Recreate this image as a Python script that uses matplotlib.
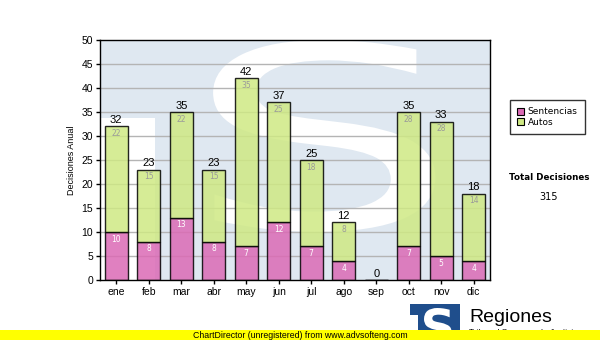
import numpy as np
import matplotlib
matplotlib.use("Agg")
import matplotlib.pyplot as plt
from matplotlib.patches import Rectangle, PathPatch
from matplotlib.textpath import TextPath
from matplotlib.font_manager import FontProperties
from matplotlib.transforms import Affine2D

# monthly decisions
months = ["ene", "feb", "mar", "abr", "may", "jun", "jul", "ago", "sep", "oct", "nov", "dic"]
sentencias = [10, 8, 13, 8, 7, 12, 7, 4, 0, 7, 5, 4]
autos = [22, 15, 22, 15, 35, 25, 18, 8, 0, 28, 28, 14]
series_names = ["Sentencias", "Autos"]

PINK = "#db6ab5"
GREEN = "#cfe984"
WM_BLUE = "#dfe8f1"
LOGO_BLUE = "#1f4e8c"
ARIAL = "Liberation Sans"
VERDANA = "DejaVu Sans"


def glyph_patch(char, box, transform, color, zorder, weight="normal"):
    """Glyph outline stretched into box=(x0, y0, x1, y1)."""
    tp = TextPath((0, 0), char, size=1, prop=FontProperties(family=VERDANA, weight=weight))
    bb = tp.get_extents()
    x0, y0, x1, y1 = box
    tr = (Affine2D().translate(-bb.x0, -bb.y0)
          .scale((x1 - x0) / bb.width, (y1 - y0) / bb.height)
          .translate(x0, y0))
    return PathPatch(tr.transform_path(tp), transform=transform,
                     facecolor=color, edgecolor="none", zorder=zorder)


W, H = 600, 340
fig = plt.figure(figsize=(6, 3.4), dpi=100)
fig.patch.set_facecolor("white")
ax = fig.add_axes([100 / W, 1 - 280 / H, 390 / W, 240 / H])

# "TS" watermark behind the bars
ax.set_facecolor("white")
ax.add_patch(Rectangle((0, 0), 1, 1, transform=ax.transAxes,
                       facecolor=WM_BLUE, edgecolor="none", zorder=0.1))
ax.add_patch(Rectangle((0, 0), 0.141, 0.675, transform=ax.transAxes,
                       facecolor="white", edgecolor="none", zorder=0.2))
ax.add_patch(glyph_patch("S", (0.29, 0.20, 0.86, 1.0), ax.transAxes, "white", 0.2))

x = np.arange(len(months))
sent = np.array(sentencias)
aut = np.array(autos)
total = sent + aut

for yv in range(5, 50, 5):
    ax.axhline(yv, color="#b4b4b4", lw=1, zorder=0.5)

ax.bar(x, sent, width=0.7, color=PINK, alpha=0.85, edgecolor="black", lw=1,
       zorder=2, label=series_names[0])
ax.bar(x, aut, bottom=sent, width=0.7, color=GREEN, alpha=0.85, edgecolor="black",
       lw=1, zorder=2, label=series_names[1])

for i in range(len(months)):
    ax.text(x[i], total[i] + 0.3, f"{total[i]}", ha="center", va="bottom",
            fontsize=8, family=ARIAL, color="black", zorder=4)
    if aut[i] > 0:
        ax.text(x[i], total[i] - 0.6, f"{aut[i]}", ha="center", va="top",
                fontsize=5.5, family=VERDANA, color="#9a9a9a", zorder=4)
    if sent[i] > 0:
        ax.text(x[i], sent[i] - 0.6, f"{sent[i]}", ha="center", va="top",
                fontsize=5.5, family=VERDANA, color="white", zorder=4)

ax.set_xlim(-0.5, len(months) - 0.5)
ax.set_ylim(0, 50)
ax.set_yticks(range(0, 51, 5))
ax.set_xticks(x)
ax.set_xticklabels(months)
ax.tick_params(axis="both", length=3, width=1, color="black", labelsize=7.5, pad=2)
for lbl in ax.get_xticklabels() + ax.get_yticklabels():
    lbl.set_family(ARIAL)
for sp in ax.spines.values():
    sp.set_linewidth(1)
    sp.set_color("black")
ax.set_ylabel("Decisiones Anual", fontsize=6.5, family=ARIAL, labelpad=4)

# legend and total on the right
leg = fig.legend(loc="upper left", bbox_to_anchor=(510 / W, 1 - 100 / H),
                 prop={"family": VERDANA, "size": 6.5}, frameon=True, fancybox=False,
                 handlelength=0.8, handleheight=0.8, handletextpad=0.35,
                 borderpad=0.8, labelspacing=0.15, borderaxespad=0)
leg.get_frame().set_edgecolor("black")
leg.get_frame().set_linewidth(1)
for h in leg.legend_handles:
    h.set_alpha(1)
    h.set_linewidth(0.8)

fig.text(549 / W, 1 - 178 / H, "Total Decisiones", ha="center", va="center",
         fontsize=6.3, family=VERDANA, weight="bold")
fig.text(549 / W, 1 - 197 / H, f"{total.sum()}", ha="center", va="center",
         fontsize=7, family=VERDANA)

# footer logo and banner
fig.patches.append(Rectangle((410 / W, 1 - 345 / H), 50 / W, 41 / H,
                             transform=fig.transFigure, facecolor=LOGO_BLUE,
                             edgecolor="none", zorder=1))
fig.patches.append(Rectangle((410 / W, 1 - 345 / H), 8 / W, 30 / H,
                             transform=fig.transFigure, facecolor="white",
                             edgecolor="none", zorder=1.1))
fig.patches.append(glyph_patch("S", (424 / W, 1 - 345 / H, 452 / W, 1 - 308 / H),
                               fig.transFigure, "white", 1.2, weight="bold"))
fig.text(469 / W, 1 - 322 / H, "Regiones", ha="left", va="baseline",
         fontsize=14, family=ARIAL, zorder=1)
fig.text(469 / W, 1 - 329 / H, "Tribunal Supremo de Justicia", ha="left", va="top",
         fontsize=6, family=ARIAL, zorder=1)
fig.patches.append(Rectangle((0, 0), 1, 10 / H, transform=fig.transFigure,
                             facecolor="#ffff00", edgecolor="none", zorder=3))
fig.text(300 / W, 5 / H, "ChartDirector (unregistered) from www.advsofteng.com",
         ha="center", va="center", fontsize=6.3, family=ARIAL, zorder=4)

fig.savefig("out.png", dpi=100)
